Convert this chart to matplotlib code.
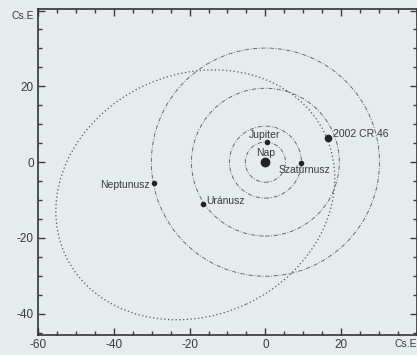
import numpy as np
import matplotlib
matplotlib.use("Agg")
import matplotlib.pyplot as plt
from matplotlib.patches import Circle, Ellipse
from matplotlib.ticker import MultipleLocator

plt.rcParams['font.family'] = ['Liberation Sans', 'DejaVu Sans']

# === Data (Cs.E. = csillagászati egység) ===
orbit_radii = [5.3, 9.5, 19.5, 30.1]          # Jupiter, Szaturnusz, Uránusz, Neptunusz

body_names = ['Nap', 'Jupiter', 'Szaturnusz', 'Uránusz', 'Neptunusz', '2002 CR 46']
body_x = [0.0, 0.5, 9.3, -16.5, -29.5, 16.5]
body_y = [0.0, 5.3, -0.2, -11.1, -5.5, 6.5]
body_size = [6, 3, 3, 3, 3, 4.5]

# 2002 CR46 pályája (ellipszis, a Nap a fókuszban)
cr46_a = 37.8
cr46_e = 0.54
cr46_peri_angle = 25.0

xticks = [-60, -40, -20, 0, 20, 40]
xtick_labels = ['-60', '-40', '-20', '0', '20', 'Cs.E']
yticks = [-40, -20, 0, 20, 40]
ytick_labels = ['-40', '-20', '0', '20', 'Cs.E']

bg = '#e6ebee'
ink = '#3a3a3a'

fig = plt.figure(figsize=(4.17, 3.55), dpi=100, facecolor=bg)
ax = fig.add_axes([38 / 417, 1 - 335 / 355, 1 - 38 / 417, (335 - 9) / 355])
ax.set_facecolor(bg)

# === Orbits ===
for r in orbit_radii:
    ax.add_patch(Circle((0, 0), r, fill=False, ec='#555555', lw=0.6,
                        ls=(0, (5, 2, 1, 2))))

b = cr46_a * np.sqrt(1 - cr46_e ** 2)
c = cr46_a * cr46_e
ang = np.radians(cr46_peri_angle)
center = (-c * np.cos(ang), -c * np.sin(ang))
ax.add_patch(Ellipse(center, 2 * cr46_a, 2 * b, angle=cr46_peri_angle,
                     fill=False, ec='#555555', lw=0.9, ls=(0, (1, 2))))

# === Bodies ===
for x, y, s in zip(body_x, body_y, body_size):
    ax.plot(x, y, 'o', color='#222222', markersize=s)

lab = dict(fontsize=7.5, color=ink)
ax.text(body_x[0], body_y[0] + 2.4, 'Nap', ha='center', va='center', **lab)
ax.text(body_x[1] - 0.8, body_y[1] + 1.8, 'Jupiter', ha='center', va='center', **lab)
ax.text(body_x[2] + 1.0, body_y[2] - 1.9, 'Szaturnusz', ha='center', va='center', **lab)
ax.text(body_x[3] + 1.0, body_y[3] + 0.8, 'Uránusz', ha='left', va='center', **lab)
ax.text(body_x[4] - 1.0, body_y[4] - 0.5, 'Neptunusz', ha='right', va='center', **lab)
ax.text(body_x[5] + 1.4, body_y[5] + 0.9, '2002 CR 46', ha='left', va='center', **lab)

# === Axes ===
ax.set_xlim(-60, 40)
ax.set_ylim(-45.6, 40.4)
ax.set_xticks(xticks)
ax.set_xticklabels(xtick_labels)
ax.set_yticks(yticks)
ax.set_yticklabels(ytick_labels)
ax.xaxis.set_minor_locator(MultipleLocator(5))
ax.yaxis.set_minor_locator(MultipleLocator(5))
ax.tick_params(which='both', direction='in', top=True, right=True,
               colors=ink, labelsize=8.5, width=1.0, pad=3)
ax.tick_params(which='major', length=5)
ax.tick_params(which='minor', length=3)
for lbl in ax.get_xticklabels():
    if lbl.get_text() == 'Cs.E':
        lbl.set_horizontalalignment('right')
        lbl.set_fontsize(7.5)
for lbl in ax.get_yticklabels():
    if lbl.get_text() == 'Cs.E':
        lbl.set_verticalalignment('top')
        lbl.set_fontsize(7.5)
for sp in ax.spines.values():
    sp.set_color('#333333')
    sp.set_linewidth(1.2)

fig.savefig('out.png', dpi=100, facecolor=bg)
